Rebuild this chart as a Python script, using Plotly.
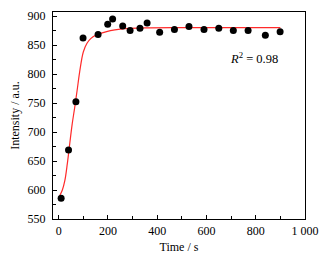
import plotly.graph_objects as go

# Measured data points
time_s = [10, 40, 70, 99, 160, 199, 219, 260, 290, 330, 359, 410, 470, 529, 590, 650, 709, 769, 839, 899]
intensity = [586, 669, 752, 862, 868, 886, 895, 883, 875, 879, 888, 872, 877, 882, 877, 879, 875, 875, 867, 873]

# Fitted curve
fit_t = [5, 15, 25, 35, 45, 55, 65, 75, 85, 100, 115, 130, 150, 170, 210, 250, 350, 500, 700, 900]
fit_v = [591, 600, 616, 645, 680, 714, 742, 772, 803, 838, 853, 861, 867, 870, 875, 877.5, 879.5, 880, 880, 880]

x_ticks = [0, 200, 400, 600, 800, 1000]
x_labels = ["0", "200", "400", "600", "800", "1 000"]
y_ticks = [550, 600, 650, 700, 750, 800, 850, 900]

font_family = "Liberation Serif, Times New Roman, serif"

fig = go.Figure()
fig.add_trace(go.Scatter(x=fit_t, y=fit_v, mode="lines", line=dict(color="#ff2a2a", width=1.2, shape="spline"),
                         hoverinfo="skip", showlegend=False))
fig.add_trace(go.Scatter(x=time_s, y=intensity, mode="markers",
                         marker=dict(color="black", size=7), showlegend=False))

fig.add_annotation(x=0.796, y=0.78, xref="paper", yref="paper", showarrow=False,
                   text="<i>R</i><sup>2</sup> = 0.98", font=dict(family=font_family, size=12.5, color="black"),
                   xanchor="center", yanchor="middle")

fig.update_layout(
    width=323, height=253,
    margin=dict(l=45, r=26, t=4, b=42),
    paper_bgcolor="white", plot_bgcolor="white",
    font=dict(family=font_family, size=12, color="black"),
)
fig.update_xaxes(
    range=[-23, 1000], tickvals=x_ticks, ticktext=x_labels, automargin=False,
    showline=True, linecolor="black", linewidth=1.2, mirror=True,
    ticks="inside", ticklen=4, tickcolor="black",
    minor=dict(ticks="inside", dtick=100, tick0=0, ticklen=3, tickcolor="black"),
    showgrid=False, zeroline=False,
    title=dict(text="Time / s", font=dict(size=12), standoff=6),
    tickfont=dict(size=12),
)
fig.update_yaxes(
    range=[550, 907], tickvals=y_ticks, automargin=False,
    showline=True, linecolor="black", linewidth=1.2, mirror=True,
    ticks="inside", ticklen=4, tickcolor="black",
    minor=dict(ticks="inside", dtick=25, tick0=550, ticklen=3, tickcolor="black"),
    showgrid=False, zeroline=False, ticklabelstandoff=4,
    title=dict(text="Intensity / a.u.", font=dict(size=12), standoff=8),
    tickfont=dict(size=12),
)

fig.write_html("out.html")
